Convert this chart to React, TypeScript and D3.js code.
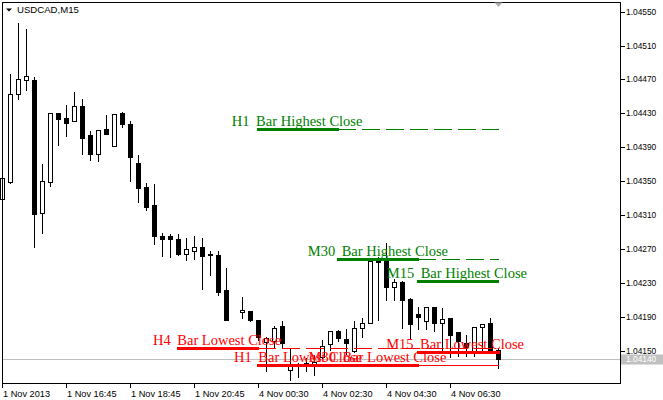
import * as d3 from "d3"

// USDCAD M15 bars (bar 29 is not visible)
const opens = [
  1.04329, 1.04349, 1.04453, 1.04469, 1.04469, 1.04313, 1.04349, 1.0443, 1.04425, 1.04421,
  1.04439, 1.04405, 1.04382, 1.04412, 1.04392, 1.04431, 1.04418, 1.04372, 1.04343, 1.04322,
  1.04285, 1.04285, 1.04282, 1.04264, 1.04268, 1.04272, 1.04264, 1.04263, 1.04222, null,
  1.04196, 1.04197, 1.04187, 1.04161, 1.04162, 1.04179, 1.04128, 1.04133, 1.04135, 1.04135,
  1.04143, 1.04158, 1.04174, 1.04164, 1.0415, 1.04177, 1.04183, 1.04256, 1.04256, 1.04225,
  1.04231, 1.04211, 1.04194, 1.04185, 1.04202, 1.04183, 1.04189, 1.04172, 1.04159, 1.0415,
  1.04178, 1.04183, 1.04151,
]
const highs = [
  1.04361, 1.04478, 1.04538, 1.04531, 1.04474, 1.04371, 1.04431, 1.04432, 1.04441, 1.04457,
  1.04448, 1.0441, 1.04411, 1.04429, 1.0443, 1.04433, 1.04422, 1.04382, 1.04349, 1.04348,
  1.0429, 1.04289, 1.04289, 1.04284, 1.04287, 1.04284, 1.04269, 1.04269, 1.04249, null,
  1.04215, 1.04198, 1.04188, 1.04168, 1.04181, 1.04186, 1.04155, 1.04137, 1.04143, 1.04147,
  1.04164, 1.04175, 1.04176, 1.04177, 1.04187, 1.0419, 1.04259, 1.04262, 1.04278, 1.04236,
  1.04234, 1.04214, 1.04203, 1.04203, 1.04203, 1.04202, 1.04189, 1.04173, 1.0417, 1.04178,
  1.04183, 1.0419, 1.04153,
]
const lows = [
  1.04327, 1.04348, 1.04447, 1.04458, 1.04273, 1.04289, 1.04344, 1.04393, 1.04403, 1.04421,
  1.04382, 1.04375, 1.04374, 1.04406, 1.04392, 1.04414, 1.0435, 1.04326, 1.04316, 1.04276,
  1.04262, 1.04261, 1.04263, 1.04257, 1.04258, 1.04223, 1.04239, 1.04216, 1.04186, null,
  1.04189, 1.04185, 1.04163, 1.04126, 1.04154, 1.04154, 1.04116, 1.04119, 1.04126, 1.04122,
  1.04142, 1.04151, 1.04162, 1.04146, 1.04149, 1.04167, 1.04183, 1.04187, 1.0421, 1.0421,
  1.04177, 1.04164, 1.04176, 1.04176, 1.04173, 1.04151, 1.04143, 1.04144, 1.04144, 1.04144,
  1.04151, 1.04151, 1.0413,
]
const closes = [
  1.04354, 1.04453, 1.04471, 1.04474, 1.04311, 1.0435, 1.0443, 1.04424, 1.04419, 1.04439,
  1.04401, 1.04382, 1.0441, 1.04406, 1.04429, 1.04418, 1.04379, 1.04342, 1.0432, 1.04285,
  1.04282, 1.04282, 1.04264, 1.0427, 1.04272, 1.04262, 1.04263, 1.0422, 1.04186, null,
  1.04198, 1.04187, 1.04167, 1.04165, 1.04177, 1.04159, 1.04132, 1.04134, 1.04136, 1.04137,
  1.04156, 1.04174, 1.04165, 1.0416, 1.04177, 1.04183, 1.04256, 1.04255, 1.04225, 1.04231,
  1.0421, 1.04182, 1.0419, 1.04202, 1.04183, 1.04188, 1.04169, 1.04162, 1.04155, 1.04178,
  1.04182, 1.04151, 1.0414,
]

const priceTicks = [
  1.0415, 1.0419, 1.0423, 1.0427, 1.0431, 1.0435, 1.0439, 1.0443, 1.0447, 1.0451, 1.0455,
]
const timeTickBars = [0, 8, 16, 24, 32, 40, 48, 56]
const timeTickLabels = [
  "1 Nov 2013", "1 Nov 16:45", "1 Nov 18:45", "1 Nov 20:45",
  "4 Nov 00:30", "4 Nov 02:30", "4 Nov 04:30", "4 Nov 06:30",
]
const bidPrice = 1.0414
const symbolTitle = "USDCAD,M15"

// "Bar Highest/Lowest Close" objects: level, thick segment and dashed tail in bar units
const levels = [
  { tf: "H1", text: "Bar Highest Close", price: 1.04412, from: 31.85, to: 42.1, dashTo: 62, textAt: 31.7, color: "#008000" },
  { tf: "M30", text: "Bar Highest Close", price: 1.04259, from: 41.85, to: 52.1, dashTo: 62, textAt: 42.4, color: "#008000" },
  { tf: "M15", text: "Bar Highest Close", price: 1.04233, from: 51.85, to: 62.1, dashTo: null, textAt: 52.27, color: "#008000" },
  { tf: "H4", text: "Bar Lowest Close", price: 1.04154, from: 21.85, to: 32.1, dashTo: 62, textAt: 21.85, color: "#ff0000" },
  { tf: "H1", text: "Bar Lowest Close", price: 1.04133, from: 31.85, to: 42.1, dashTo: 62, textAt: 31.98, color: "#ff0000" },
  { tf: "M30", text: "Bar Lowest Close", price: 1.04133, from: 41.85, to: 52.1, dashTo: 62, textAt: 42.5, color: "#ff0000" },
  { tf: "M15", text: "Bar Lowest Close", price: 1.04149, from: 51.85, to: 62.2, dashTo: null, textAt: 52.2, color: "#ff0000" },
]

const W = 663
const H = 400
const frame = { left: 2.5, top: 2.5, right: 620.5, bottom: 383.5 }

export default function App() {
  const x = d3.scaleLinear().domain([0, 62]).range([2.5, 498.5])
  const y = d3.scaleLinear().domain([1.0415, 1.0455]).range([351, 11.6])
  const py = (p: number) => Math.round(y(p)) + 0.5

  const axisFont = "Tahoma, 'Liberation Sans', Arial, sans-serif"
  const serif = "'Liberation Serif', 'Times New Roman', serif"

  const bars = d3.range(opens.length).filter((i) => opens[i] != null)

  return (
    <svg width={W} height={H} style={{ position: "absolute", left: 0, top: 0, background: "#fff" }}>
      <rect x={0} y={0} width={W} height={H} fill="#fff" />

      {/* bid line */}
      <line x1={frame.left} x2={frame.right} y1={py(bidPrice)} y2={py(bidPrice)} stroke="#c0c0c0" />

      {/* candles */}
      <g stroke="#000" strokeWidth={1} shapeRendering="crispEdges">
        {bars.map((i) => {
          const o = opens[i] as number
          const c = closes[i] as number
          const cx = x(i)
          const top = py(Math.max(o, c))
          const bot = py(Math.min(o, c))
          const up = c >= o
          return (
            <g key={i}>
              <line x1={cx} x2={cx} y1={py(highs[i] as number)} y2={py(lows[i] as number)} />
              <path
                d={`M${cx - 2},${top}H${cx + 2}V${bot}H${cx - 2}Z`}
                fill={up ? "#fff" : "#000"}
              />
            </g>
          )
        })}
      </g>

      {/* level objects */}
      {levels.map((lv, k) => {
        const ly = py(lv.price)
        const x0 = x(lv.from)
        const x1 = x(lv.to)
        const tx = x(lv.textAt)
        return (
          <g key={k}>
            {lv.dashTo != null && (
              <line
                x1={x0}
                x2={x(lv.dashTo)}
                y1={ly}
                y2={ly}
                stroke={lv.color}
                strokeDasharray="18 6"
                strokeDashoffset={15}
                shapeRendering="crispEdges"
              />
            )}
            <line x1={x0} x2={x1} y1={ly} y2={ly} stroke={lv.color} strokeWidth={3} shapeRendering="crispEdges" />
            <text x={tx - 6.5} y={ly - 3.5} fill={lv.color} fontFamily={serif} fontSize={14.5} textAnchor="end">
              {lv.tf}
            </text>
            <text x={tx} y={ly - 3.5} fill={lv.color} fontFamily={serif} fontSize={14.5}>
              {lv.text}
            </text>
          </g>
        )
      })}

      {/* frame */}
      <rect
        x={frame.left}
        y={frame.top}
        width={frame.right - frame.left}
        height={frame.bottom - frame.top}
        fill="none"
        stroke="#000"
        shapeRendering="crispEdges"
      />

      {/* price axis */}
      <g fontFamily={axisFont} fontSize={8.4} fill="#000">
        {priceTicks.map((p) => (
          <g key={p}>
            <line x1={frame.right} x2={frame.right + 4} y1={py(p)} y2={py(p)} stroke="#000" shapeRendering="crispEdges" />
            <text x={626} y={py(p)} dy="0.35em">
              {d3.format(".5f")(p)}
            </text>
          </g>
        ))}
        <rect x={621} y={py(bidPrice) - 5} width={42} height={10} fill="#c0c0c0" />
        <text x={626} y={py(bidPrice)} dy="0.35em" fill="#fff">
          {d3.format(".5f")(bidPrice)}
        </text>
      </g>

      {/* time axis */}
      <g fontFamily={axisFont} fontSize={9.2} fill="#000">
        {timeTickBars.map((b, i) => (
          <g key={b}>
            <line x1={x(b)} x2={x(b)} y1={frame.bottom} y2={frame.bottom + 4} stroke="#000" shapeRendering="crispEdges" />
            <text x={x(b) + 0.5} y={396.5}>
              {timeTickLabels[i]}
            </text>
          </g>
        ))}
      </g>

      {/* title and chart shift marker */}
      <path d="M6,8.5H12L9,11.5Z" fill="#000" />
      <text x={17} y={12.8} fontFamily={axisFont} fontSize={9.6} fill="#000">
        {symbolTitle}
      </text>
      <path d={`M${x(62) - 4},2.5H${x(62) + 4}L${x(62)},7Z`} fill="#b0b0b0" />
    </svg>
  )
}
